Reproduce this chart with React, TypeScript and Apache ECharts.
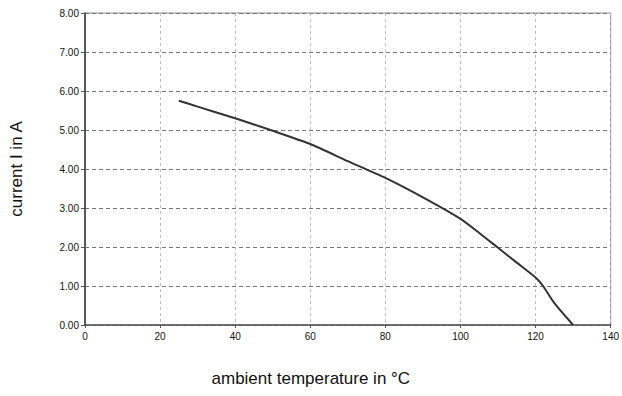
import React, { useEffect, useRef } from "react";
import * as echarts from "echarts";

const temperatures = [25, 30, 40, 50, 60, 70, 80, 90, 100, 105, 110, 115, 120, 122, 125, 130];
const currents = [5.75, 5.6, 5.3, 4.98, 4.64, 4.2, 3.77, 3.27, 2.72, 2.36, 1.98, 1.6, 1.22, 1.0, 0.56, 0];

const xTitle = "ambient temperature in °C";
const yTitle = "current I in A";

export default function App() {
  const ref = useRef<HTMLDivElement>(null);
  useEffect(() => {
    if (!ref.current) return;
    const chart = echarts.init(ref.current, undefined, { renderer: "svg" });
    const data = temperatures.map((t, i) => [t, currents[i]]);
    chart.setOption({
      animation: false,
      backgroundColor: "#ffffff",
      textStyle: { fontFamily: "Liberation Sans, Arial, sans-serif" },
      grid: {
        left: 83,
        right: 7,
        top: 13,
        bottom: 71,
        show: true,
        borderColor: "#8a8a8a",
        borderWidth: 1,
      },
      xAxis: {
        type: "value",
        min: 0,
        max: 140,
        interval: 20,
        name: xTitle,
        nameLocation: "middle",
        nameGap: 45,
        nameTextStyle: {
          fontSize: 17,
          color: "#111",
          fontFamily: "Liberation Sans, Arial, sans-serif",
          padding: [0, 74, 0, 0],
        },
        axisLine: { show: true, onZero: false, lineStyle: { color: "#555", width: 1.5 } },
        axisTick: { show: true, length: 3, lineStyle: { color: "#555" } },
        axisLabel: { fontSize: 10, color: "#111", margin: 6 },
        splitLine: { show: true, lineStyle: { type: [3, 3], color: "#bdbdbd", width: 1 } },
      },
      yAxis: {
        type: "value",
        min: 0,
        max: 8,
        interval: 1,
        name: yTitle,
        nameLocation: "middle",
        nameGap: 60,
        nameRotate: 90,
        nameTextStyle: { fontSize: 17, color: "#111", fontFamily: "Liberation Sans, Arial, sans-serif" },
        axisLine: { show: true, lineStyle: { color: "#333", width: 1.5 } },
        axisTick: { show: true, length: 4, lineStyle: { color: "#555" } },
        axisLabel: { fontSize: 10, color: "#111", margin: 6, formatter: (v: number) => v.toFixed(2) },
        splitLine: { show: true, lineStyle: { type: [4, 3], color: "#777", width: 1 } },
      },
      series: [
        {
          type: "line",
          data,
          smooth: 0.2,
          symbol: "none",
          lineStyle: { color: "#333", width: 2 },
        },
      ],
    });
    return () => chart.dispose();
  }, []);
  return (
    <div
      ref={ref}
      style={{ position: "fixed", left: 0, top: 0, width: 622, height: 396 }}
    />
  );
}
